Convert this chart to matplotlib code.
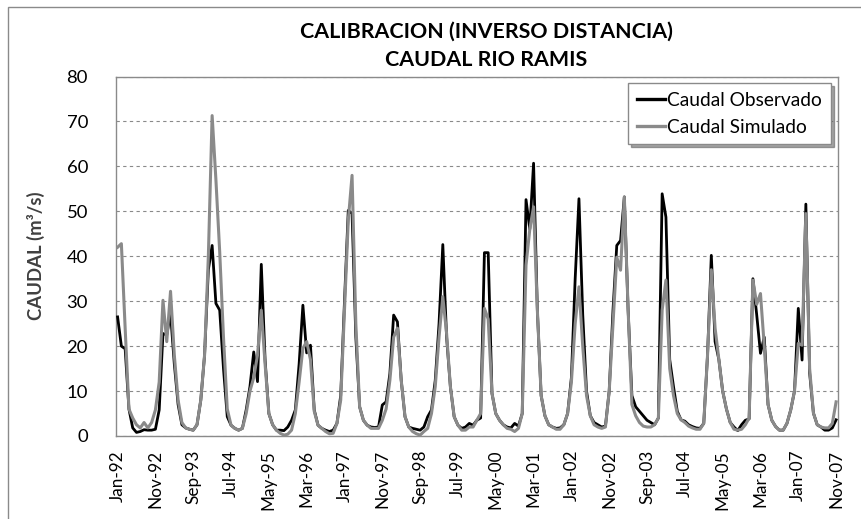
import numpy as np
import pandas as pd
import matplotlib
matplotlib.use('Agg')
import matplotlib.pyplot as plt
from matplotlib.patches import Rectangle

plt.rcParams['font.family'] = ['Lato', 'DejaVu Sans']

"""# Data (monthly flows, m3/s)"""

start_month = '1992-01'

caudal_obs = [
    26.5, 20.0, 19.4, 6.0, 1.8, 0.8, 1.0, 1.4, 1.3, 1.3, 1.5, 5.8,
    22.8, 22.5, 27.3, 16.0, 7.0, 2.5, 1.8, 1.5, 1.3, 2.5, 8.0, 18.0,
    37.0, 42.4, 29.5, 28.0, 15.0, 4.3, 2.4, 1.7, 1.3, 1.7, 5.8, 11.0,
    18.7, 12.1, 38.2, 17.0, 5.0, 2.5, 1.3, 1.3, 1.2, 2.0, 3.5, 5.8,
    16.0, 29.1, 18.5, 20.2, 5.8, 2.4, 1.7, 1.3, 1.0, 1.3, 2.8, 9.0,
    30.0, 50.2, 49.5, 22.0, 6.5, 3.5, 2.4, 2.0, 1.9, 2.0, 6.9, 7.6,
    13.9, 26.9, 25.4, 12.4, 4.3, 2.0, 1.7, 1.5, 1.3, 2.0, 4.3, 5.8,
    12.4, 25.0, 42.6, 22.0, 11.0, 4.3, 2.4, 1.7, 2.0, 2.8, 2.4, 3.5,
    4.0, 40.8, 40.8, 9.5, 5.0, 3.5, 2.5, 2.0, 1.8, 2.8, 2.2, 5.0,
    52.6, 46.0, 60.7, 28.0, 9.0, 4.5, 2.5, 2.0, 1.7, 1.8, 2.5, 5.0,
    13.0, 35.0, 52.8, 27.0, 10.0, 4.5, 3.0, 2.5, 2.0, 2.2, 10.0, 28.0,
    42.4, 43.5, 53.2, 28.0, 9.0, 6.5, 5.5, 4.5, 3.5, 3.0, 2.5, 4.0,
    53.9, 48.7, 17.0, 11.0, 5.5, 3.6, 3.3, 2.5, 2.1, 1.8, 1.7, 2.8,
    18.0, 40.2, 21.0, 17.0, 10.0, 6.0, 3.0, 2.0, 1.2, 2.5, 3.5, 3.8,
    35.0, 27.0, 18.4, 22.0, 7.0, 3.5, 2.1, 1.3, 1.3, 2.8, 5.8, 10.0,
    28.4, 16.9, 51.6, 14.0, 5.1, 2.5, 2.0, 1.3, 1.3, 1.8, 3.6,
]

caudal_sim = [
    42.0, 42.8, 24.0, 6.0, 4.0, 2.5, 1.8, 3.0, 1.8, 3.0, 5.8, 12.0,
    30.2, 21.0, 32.2, 18.0, 8.0, 3.0, 1.8, 1.5, 1.3, 2.5, 8.0, 18.0,
    40.0, 71.3, 57.0, 41.0, 22.0, 6.0, 2.4, 1.7, 1.3, 1.7, 5.0, 10.0,
    13.0, 18.0, 28.0, 16.0, 5.0, 2.5, 1.3, 0.6, 0.2, 0.4, 1.3, 5.0,
    12.0, 19.5, 21.0, 17.0, 5.5, 2.4, 1.7, 1.0, 0.5, 0.6, 2.8, 8.0,
    28.0, 48.0, 58.0, 25.0, 6.5, 3.5, 2.4, 1.7, 1.7, 1.7, 3.5, 6.0,
    12.4, 22.0, 24.0, 12.4, 4.3, 2.0, 1.0, 0.5, 0.2, 1.0, 1.7, 5.0,
    11.0, 22.0, 31.0, 22.8, 11.0, 4.3, 2.4, 1.3, 1.3, 2.0, 2.0, 3.5,
    5.0, 28.4, 26.0, 9.5, 5.0, 3.5, 2.5, 1.7, 1.5, 1.0, 1.7, 5.0,
    38.0, 46.0, 51.0, 28.0, 9.0, 4.5, 2.5, 2.0, 1.5, 1.5, 2.5, 5.0,
    12.0, 25.0, 33.2, 20.0, 9.0, 4.5, 2.5, 2.0, 1.7, 2.0, 10.0, 25.0,
    39.8, 36.9, 53.2, 28.0, 7.0, 4.5, 3.0, 2.2, 2.0, 2.0, 2.5, 4.0,
    28.0, 34.7, 15.0, 9.0, 5.0, 3.6, 3.0, 2.2, 1.8, 1.5, 1.5, 2.8,
    18.0, 37.0, 24.0, 17.0, 10.0, 6.0, 3.0, 1.5, 1.3, 1.5, 2.5, 4.0,
    34.7, 29.3, 31.7, 20.0, 7.0, 3.5, 2.1, 1.3, 1.3, 2.8, 5.8, 10.0,
    20.6, 20.2, 49.5, 15.0, 5.1, 2.5, 2.0, 1.8, 1.8, 2.8, 7.6,
]

fechas = pd.date_range(start_month, periods=len(caudal_obs), freq='MS')
tick_step = 10

"""# Plot"""

fig = plt.figure(figsize=(8.61, 5.19), dpi=100)
ax = fig.add_axes([115.7/861, 1 - 436/519, (838 - 115.7)/861, (436 - 76.5)/519])

x = np.arange(len(fechas))
ax.plot(x, caudal_obs, color='black', lw=2.0, label='Caudal Observado',
        solid_joinstyle='round', zorder=3)
ax.plot(x, caudal_sim, color='#8a8a8a', lw=2.2, label='Caudal Simulado',
        solid_joinstyle='round', zorder=4)

ax.set_xlim(-0.5, len(fechas) - 0.5)
ax.set_ylim(0, 80)
ax.set_yticks(np.arange(0, 81, 10))
ax.yaxis.grid(True, color='#8a8a8a', linestyle=(0, (3, 3)), lw=0.8)
ax.set_axisbelow(True)

ticks = x[::tick_step]
ax.set_xticks(ticks)
ax.set_xticklabels([d.strftime('%b-%y') for d in fechas[::tick_step]],
                   rotation=90, fontsize=12.3)
ax.tick_params(axis='both', length=0, colors='black')
ax.tick_params(axis='y', labelsize=13.3, pad=20)
ax.tick_params(axis='x', pad=10)

for s in ax.spines.values():
    s.set_color('#8a8a8a')
    s.set_linewidth(1.0)

ax.set_ylabel('CAUDAL (m³/s)', fontsize=13.3, fontweight='bold', color='#404040')
ax.yaxis.set_label_coords((45 - 115.7)/722.3, 0.5)

fig.text(486/861, 1 - 32/519, 'CALIBRACION (INVERSO DISTANCIA)', ha='center',
         va='center', fontsize=15.4, fontweight='bold')
fig.text(486/861, 1 - 60/519, 'CAUDAL RIO RAMIS', ha='center', va='center',
         fontsize=15.4, fontweight='bold')

leg = ax.legend(loc='upper right', bbox_to_anchor=(0.99, 0.981), fontsize=13.8,
                frameon=True, fancybox=False, shadow=True, handlelength=1.5,
                handletextpad=0.1, labelspacing=0.5, borderpad=0.45,
                borderaxespad=0)
leg.get_frame().set_edgecolor('#8a8a8a')
leg.get_frame().set_linewidth(1.0)
for h in leg.get_lines():
    h.set_linewidth(2.4)

# outer chart border (only top/left visible in the picture)
fig.patches.append(Rectangle((8/861, -0.1), 1.2, 1 - 7/519 + 0.1,
                             transform=fig.transFigure, fill=False,
                             edgecolor='#8a8a8a', lw=1.0))

fig.savefig('out.png', dpi=100)
